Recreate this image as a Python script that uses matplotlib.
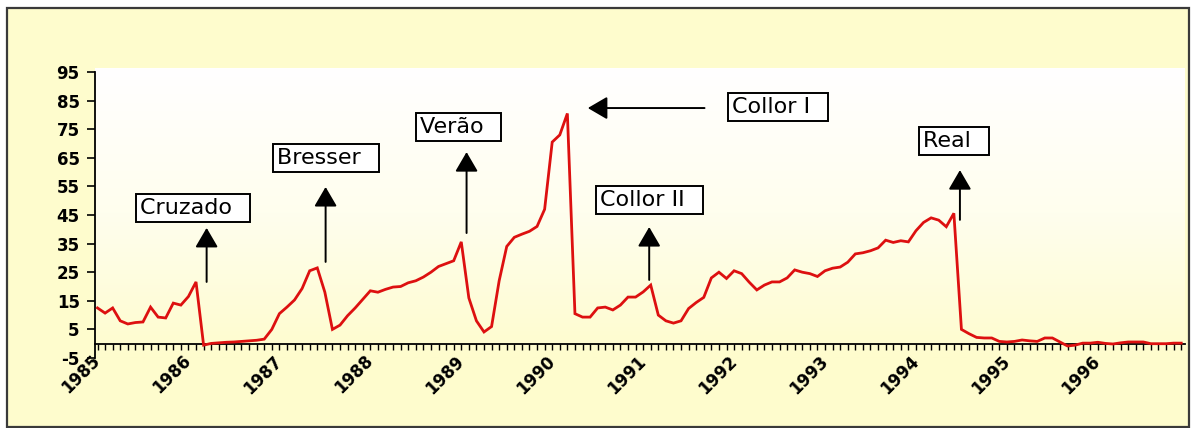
import numpy as np
import matplotlib
matplotlib.use("Agg")
import matplotlib.pyplot as plt
from matplotlib.patches import Rectangle
from matplotlib.colors import LinearSegmentedColormap

plt.rcParams["font.family"] = ["DejaVu Sans"]

# Monthly inflation rate (% per month), Jan 1985 - Dec 1996
rate_1985 = [12.5, 10.7, 12.5, 8.0, 6.9, 7.4, 7.6, 12.8, 9.3, 9.0, 14.2, 13.5]
rate_1986 = [16.5, 21.6, -0.5, 0.1, 0.3, 0.5, 0.6, 0.8, 1.0, 1.2, 1.6, 5.0]
rate_1987 = [10.5, 12.8, 15.3, 19.3, 25.5, 26.5, 18.0, 5.0, 6.5, 9.8, 12.5, 15.5]
rate_1988 = [18.5, 18.0, 19.0, 19.8, 20.0, 21.3, 22.0, 23.3, 25.0, 27.0, 28.0, 29.0]
rate_1989 = [35.6, 16.0, 8.0, 4.1, 6.0, 22.0, 34.0, 37.2, 38.3, 39.3, 41.0, 47.0]
rate_1990 = [70.5, 73.0, 80.5, 10.5, 9.3, 9.3, 12.5, 12.8, 11.8, 13.5, 16.3, 16.3]
rate_1991 = [18.1, 20.5, 10.0, 8.0, 7.2, 8.0, 12.3, 14.4, 16.2, 23.0, 25.0, 22.8]
rate_1992 = [25.5, 24.5, 21.5, 18.8, 20.5, 21.6, 21.6, 23.0, 25.8, 25.0, 24.5, 23.5]
rate_1993 = [25.5, 26.4, 26.8, 28.5, 31.4, 31.8, 32.5, 33.5, 36.2, 35.4, 36.0, 35.6]
rate_1994 = [39.5, 42.4, 44.0, 43.2, 40.9, 45.6, 5.0, 3.5, 2.2, 2.0, 2.0, 0.8]
rate_1995 = [0.6, 0.8, 1.3, 1.0, 0.8, 2.0, 2.0, 0.6, -0.8, -0.5, 0.2, 0.2]
rate_1996 = [0.5, 0.1, -0.1, 0.3, 0.6, 0.6, 0.6, 0.0, 0.0, 0.0, 0.2, 0.2]

years = list(range(1985, 1997))
year_labels = [str(y) for y in years]
y_ticks = list(range(-5, 96, 10))

plans = ["Cruzado", "Bresser", "Verão", "Collor I", "Collor II", "Real"]

monthly_rate = (rate_1985 + rate_1986 + rate_1987 + rate_1988 + rate_1989 + rate_1990
                + rate_1991 + rate_1992 + rate_1993 + rate_1994 + rate_1995 + rate_1996)
month_idx = np.arange(len(monthly_rate))

# label box anchor (month index, value) and arrow tail / head for each plan
label_anchor = [(5.6, 47.3), (23.7, 64.8), (42.5, 75.8), (83.7, 82.8), (66.3, 50.2), (108.9, 71.0)]
arrow_tail = [(14.4, 21.6), (30.1, 28.6), (48.7, 38.7), (80.1, 82.4), (72.8, 22.3), (113.8, 43.3)]
arrow_head = [(14.4, 40.5), (30.1, 54.8), (48.7, 67.0), (64.7, 82.4), (72.8, 40.8), (113.8, 60.7)]

W, H = 1194, 428
fig = plt.figure(figsize=(W / 100, H / 100), dpi=100)
fig.patch.set_facecolor("white")

# chart area frame
fig.patches.append(Rectangle((7 / W, 1 / H), (1189 - 7) / W, (427 - 8) / H,
                             transform=fig.transFigure, facecolor="#FEFCCD",
                             edgecolor="#3a3a3a", linewidth=1.6, zorder=-10))

ax = fig.add_axes([95 / W, 70 / H, 1090 / W, 290 / H])
ax.set_facecolor("none")
ax.set_zorder(1)

xlim = (-0.33, 143.5)
ylim = (-5, 96.4)

# plot-area gradient: white at the top fading into pale yellow
grad = LinearSegmentedColormap.from_list("plotarea", ["#FFFFFF", "#FFFEEE", "#FEFCCD"])
ax.imshow(np.linspace(0, 1, 256).reshape(-1, 1), cmap=grad, aspect="auto",
          extent=(xlim[0], xlim[1], ylim[0], ylim[1]), origin="upper", zorder=0)

ax.plot(month_idx, monthly_rate, color="#DD1010", lw=2.0, zorder=3,
        solid_joinstyle="miter")

ax.set_xlim(*xlim)
ax.set_ylim(*ylim)

for s in ("top", "right"):
    ax.spines[s].set_visible(False)
ax.spines["bottom"].set_position(("data", 0))
ax.spines["bottom"].set_linewidth(1.3)
ax.spines["left"].set_bounds(-5, 95)
ax.spines["left"].set_linewidth(1.3)

ax.set_yticks(y_ticks)
ax.set_yticklabels([str(v) for v in y_ticks], fontweight="bold", fontsize=12)
ax.tick_params(axis="y", direction="out", length=6, width=1.2, pad=5)

ax.set_xticks(month_idx[::12])
ax.set_xticks(month_idx, minor=True)
ax.set_xticklabels(year_labels, rotation=45, ha="right", va="center",
                   rotation_mode="anchor", fontweight="bold", fontsize=12)
ax.tick_params(axis="x", which="both", direction="out", length=4.5, width=1.0, pad=6)

for name, (tx, ty), tail, head in zip(plans, label_anchor, arrow_tail, arrow_head):
    ax.text(tx, ty, name + "  ", ha="left", va="center", fontsize=16, zorder=5,
            bbox=dict(boxstyle="square,pad=0.18", facecolor="white",
                      edgecolor="black", linewidth=1.4))
    ax.annotate("", xy=head, xytext=tail, zorder=5,
                arrowprops=dict(arrowstyle="-|>,head_length=0.6,head_width=0.35",
                                mutation_scale=20, color="black", lw=1.4,
                                shrinkA=0, shrinkB=0))

fig.savefig("out.png", dpi=100)
